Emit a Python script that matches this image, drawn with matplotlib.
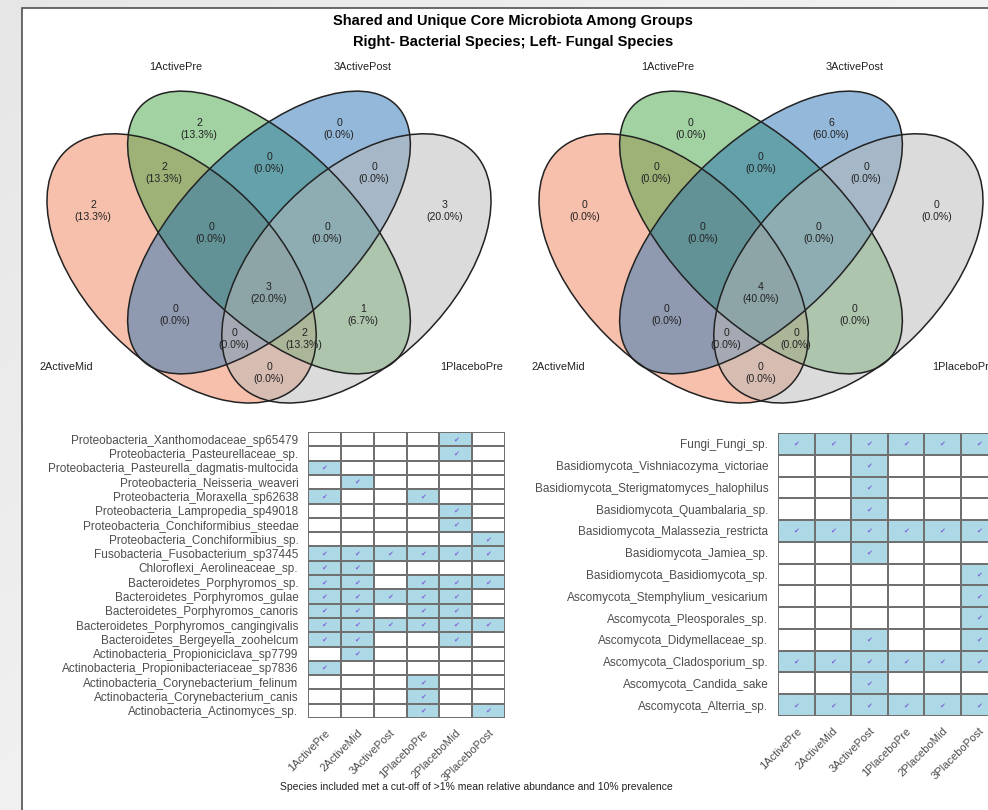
import numpy as np
import matplotlib.pyplot as plt
from matplotlib.patches import Ellipse, Rectangle
from matplotlib.colors import ListedColormap

plt.rcParams['font.family'] = ['Liberation Sans', 'DejaVu Sans']

# ---- data ----
groups = ['1ActivePre', '2ActiveMid', '3ActivePost', '1PlaceboPre', '2PlaceboMid', '3PlaceboPost']
# sets shown in the venn diagrams (salmon, green, blue, grey)
venn_sets = ['2ActiveMid', '1ActivePre', '3ActivePost', '1PlaceboPre']

bact_species = [
    'Proteobacteria_Xanthomodaceae_sp65479',
    'Proteobacteria_Pasteurellaceae_sp.',
    'Proteobacteria_Pasteurella_dagmatis-multocida',
    'Proteobacteria_Neisseria_weaveri',
    'Proteobacteria_Moraxella_sp62638',
    'Proteobacteria_Lampropedia_sp49018',
    'Proteobacteria_Conchiformibius_steedae',
    'Proteobacteria_Conchiformibius_sp.',
    'Fusobacteria_Fusobacterium_sp37445',
    'Chloroflexi_Aerolineaceae_sp.',
    'Bacteroidetes_Porphyromos_sp.',
    'Bacteroidetes_Porphyromos_gulae',
    'Bacteroidetes_Porphyromos_canoris',
    'Bacteroidetes_Porphyromos_cangingivalis',
    'Bacteroidetes_Bergeyella_zoohelcum',
    'Actinobacteria_Propioniciclava_sp7799',
    'Actinobacteria_Propionibacteriaceae_sp7836',
    'Actinobacteria_Corynebacterium_felinum',
    'Actinobacteria_Corynebacterium_canis',
    'Actinobacteria_Actinomyces_sp.',
]
bact_present = [
    [0, 0, 0, 0, 1, 0],
    [0, 0, 0, 0, 1, 0],
    [1, 0, 0, 0, 0, 0],
    [0, 1, 0, 0, 0, 0],
    [1, 0, 0, 1, 0, 0],
    [0, 0, 0, 0, 1, 0],
    [0, 0, 0, 0, 1, 0],
    [0, 0, 0, 0, 0, 1],
    [1, 1, 1, 1, 1, 1],
    [1, 1, 0, 0, 0, 0],
    [1, 1, 0, 1, 1, 1],
    [1, 1, 1, 1, 1, 0],
    [1, 1, 0, 1, 1, 0],
    [1, 1, 1, 1, 1, 1],
    [1, 1, 0, 0, 1, 0],
    [0, 1, 0, 0, 0, 0],
    [1, 0, 0, 0, 0, 0],
    [0, 0, 0, 1, 0, 0],
    [0, 0, 0, 1, 0, 0],
    [0, 0, 0, 1, 0, 1],
]

fung_species = [
    'Fungi_Fungi_sp.',
    'Basidiomycota_Vishniacozyma_victoriae',
    'Basidiomycota_Sterigmatomyces_halophilus',
    'Basidiomycota_Quambalaria_sp.',
    'Basidiomycota_Malassezia_restricta',
    'Basidiomycota_Jamiea_sp.',
    'Basidiomycota_Basidiomycota_sp.',
    'Ascomycota_Stemphylium_vesicarium',
    'Ascomycota_Pleosporales_sp.',
    'Ascomycota_Didymellaceae_sp.',
    'Ascomycota_Cladosporium_sp.',
    'Ascomycota_Candida_sake',
    'Ascomycota_Alterria_sp.',
]
fung_present = [
    [1, 1, 1, 1, 1, 1],
    [0, 0, 1, 0, 0, 0],
    [0, 0, 1, 0, 0, 0],
    [0, 0, 1, 0, 0, 0],
    [1, 1, 1, 1, 1, 1],
    [0, 0, 1, 0, 0, 0],
    [0, 0, 0, 0, 0, 1],
    [0, 0, 0, 0, 0, 1],
    [0, 0, 0, 0, 0, 1],
    [0, 0, 1, 0, 0, 1],
    [1, 1, 1, 1, 1, 1],
    [0, 0, 1, 0, 0, 0],
    [1, 1, 1, 1, 1, 1],
]

title = 'Shared and Unique Core Microbiota Among Groups\nRight- Bacterial Species; Left- Fungal Species'
note = 'Species included met a cut-off of >1% mean relative abundance and 10% prevalence'

# ---- layout (pixels) ----
W, H = 988, 810
venn_colors = ['#F0825A', '#46A546', '#2873B4', '#B9B9B9']
# ellipse centre, width, height, angle relative to the centre of the two inner ellipses
ell_geom = [
    ((-87.4, -35.9), 330, 190, -45),
    ((0, 0), 360, 174, -45),
    ((0, 0), 360, 174, 45),
    ((87.4, -35.9), 330, 190, 45),
]
region_pos = {
    (1, 0, 0, 0): (-176, 22), (0, 1, 0, 0): (-70, 104), (0, 0, 1, 0): (70, 104), (0, 0, 0, 1): (176, 22),
    (1, 1, 0, 0): (-105, 59), (0, 1, 1, 0): (0, 69), (0, 0, 1, 1): (105, 59),
    (1, 1, 1, 0): (-58, -1), (0, 1, 1, 1): (58, -1), (1, 1, 1, 1): (0, -60),
    (1, 0, 1, 0): (-94, -83), (0, 1, 0, 1): (94, -83),
    (1, 0, 1, 1): (-35, -106), (1, 1, 0, 1): (35, -106), (1, 0, 0, 1): (0, -141),
}
set_label_pos = [(-203, -134), (-93, 166), (94, 166), (203, -134)]


def frac(x0, y0, x1, y1):
    return [x0 / W, 1 - y1 / H, (x1 - x0) / W, (y1 - y0) / H]


fig = plt.figure(figsize=(W / 100, H / 100), dpi=100)

# background: grey page edge and white framed panel
bg = fig.add_axes([0, 0, 1, 1], zorder=-1)
xx, yy = np.meshgrid(np.linspace(0, 1, 200), np.linspace(0, 1, 200))
bg.imshow(0.90 + 0.05 * xx + 0.04 * yy, cmap='gray', vmin=0, vmax=1,
          extent=(0, W, H, 0), aspect='auto')
bg.add_patch(Rectangle((22, 8), W, H, facecolor='white', edgecolor='#505050', lw=1.2))
bg.set_xlim(0, W)
bg.set_ylim(H, 0)
bg.axis('off')


def draw_venn(cx, present):
    ax = fig.add_axes(frac(cx - 247, 50, cx + 247, 415))
    ax.set_xlim(-247, 247)
    ax.set_ylim(-182.5, 182.5)
    ax.axis('off')
    m = np.array(present)[:, [groups.index(s) for s in venn_sets]]
    inside = m[m.sum(axis=1) > 0]
    total = len(inside)
    for (xy, w, h, ang), col in zip(ell_geom, venn_colors):
        ax.add_patch(Ellipse(xy, w, h, angle=ang, facecolor=col, alpha=0.5, lw=0))
    for xy, w, h, ang in ell_geom:
        ax.add_patch(Ellipse(xy, w, h, angle=ang, facecolor='none', edgecolor='#222222', lw=1.1))
    for key, (x, y) in region_pos.items():
        n = int(np.all(inside == np.array(key), axis=1).sum())
        ax.text(x, y, f'{n}\n({100 * n / total:.1f}%)', ha='center', va='center',
                fontsize=7.6, color='#222222', linespacing=1.25)
    for name, (x, y) in zip(venn_sets, set_label_pos):
        ax.text(x, y, name, ha='center', va='center', fontsize=7.8, color='#222222')


def draw_grid(box, species, present):
    ax = fig.add_axes(frac(*box))
    m = np.array(present)
    nrow, ncol = m.shape
    ax.pcolormesh(np.arange(ncol + 1), np.arange(nrow + 1), m,
                  cmap=ListedColormap(['white', '#ADD8E6']), vmin=0, vmax=1,
                  edgecolors='#707070', linewidth=1.1)
    rows, cols = np.nonzero(m)
    for r, c in zip(rows, cols):
        ax.text(c + 0.5, r + 0.5, '\u2714', ha='center', va='center', fontsize=5,
                color='#8064d8', family='DejaVu Sans')
    ax.set_xlim(0, ncol)
    ax.set_ylim(nrow, 0)
    ax.set_yticks(np.arange(nrow) + 0.5, species, fontsize=8.5, color='#4d4d4d')
    ax.set_xticks(np.arange(ncol) + 0.5, groups, rotation=45, ha='right',
                  rotation_mode='anchor', fontsize=8, color='#4d4d4d')
    ax.tick_params(length=0, pad=7)
    for s in ax.spines.values():
        s.set_visible(False)


draw_venn(269, bact_present)
draw_venn(761, fung_present)
draw_grid((308, 432, 505, 718), bact_species, bact_present)
draw_grid((778, 433, 997, 716), fung_species, fung_present)

fig.text(513 / W, 1 - 31.5 / H, title, ha='center', va='center', fontsize=10.5,
         fontweight='bold', linespacing=1.55)
fig.text(476 / W, 1 - 787 / H, note, ha='center', va='center', fontsize=7.5, color='#222222')

fig.savefig('out.png', dpi=100)
